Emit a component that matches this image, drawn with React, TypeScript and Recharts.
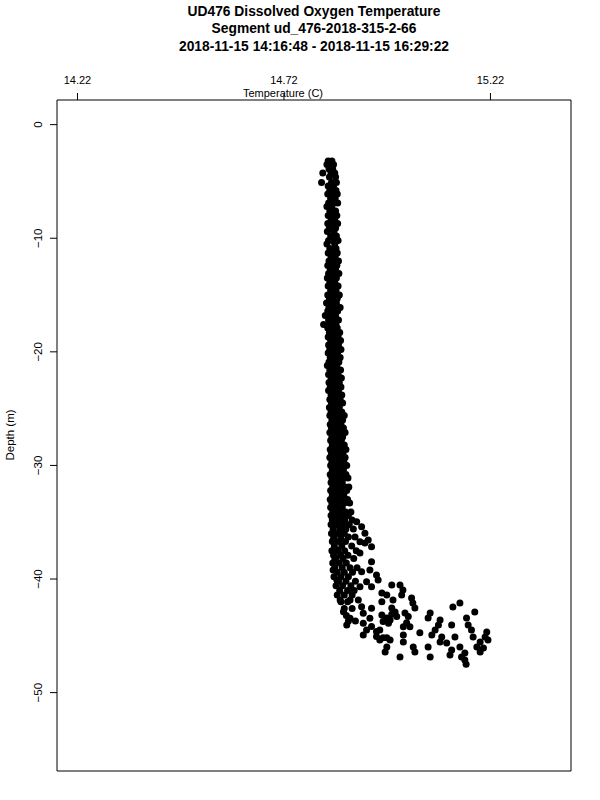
import { ReferenceArea, Scatter, ScatterChart, XAxis, YAxis } from "recharts";

const titleLines = [
  "UD476 Dissolved Oxygen Temperature",
  "Segment ud_476-2018-315-2-66",
  "2018-11-15 14:16:48 - 2018-11-15 16:29:22",
];

const tempTicks = [14.22, 14.72, 15.22];
const depthTicks = [0, -10, -20, -30, -40, -50];
const tempDomain = [14.1704, 15.415];
const depthDomain = [-56.9, 2.17];

// rows of [depth, temperature, temperature, ...]
const upperColumnRows: number[][] = [
  [-3.2, 14.827, 14.836],
  [-3.5, 14.824, 14.832, 14.84],
  [-3.9, 14.829, 14.838],
  [-4.25, 14.814, 14.834, 14.843],
  [-4.6, 14.83, 14.845],
  [-5.1, 14.811, 14.835, 14.847],
  [-5.4, 14.827, 14.84],
  [-5.8, 14.831, 14.846],
  [-6.1, 14.826, 14.838, 14.849],
  [-6.5, 14.833, 14.844],
  [-6.9, 14.828, 14.84, 14.85],
  [-7.2, 14.824, 14.836],
  [-7.6, 14.831, 14.845],
  [-8.0, 14.827, 14.839, 14.848],
  [-8.3, 14.834, 14.843],
  [-8.7, 14.826, 14.838, 14.85],
  [-9.1, 14.83, 14.845],
  [-9.4, 14.825, 14.841],
  [-9.8, 14.833, 14.847],
  [-10.2, 14.828, 14.838, 14.851],
  [-10.5, 14.824, 14.843],
  [-10.9, 14.831, 14.846],
  [-11.3, 14.827, 14.839, 14.849],
  [-11.6, 14.834, 14.844],
  [-12.0, 14.829, 14.841, 14.852],
];

const middleColumnRows: number[][] = [
  [-12.4, 14.826, 14.837, 14.848],
  [-12.8, 14.832, 14.845],
  [-13.1, 14.828, 14.84, 14.853],
  [-13.5, 14.825, 14.836, 14.847],
  [-13.9, 14.831, 14.843],
  [-14.2, 14.827, 14.839, 14.851],
  [-14.6, 14.833, 14.846],
  [-15.0, 14.826, 14.838, 14.854],
  [-15.3, 14.83, 14.842, 14.849],
  [-15.7, 14.823, 14.835, 14.847],
  [-16.1, 14.829, 14.841, 14.856],
  [-16.4, 14.826, 14.838, 14.85],
  [-16.8, 14.82, 14.833, 14.845],
  [-17.2, 14.828, 14.84, 14.852],
  [-17.6, 14.816, 14.831, 14.846],
  [-17.9, 14.826, 14.837, 14.849],
  [-18.3, 14.83, 14.843, 14.855],
  [-18.7, 14.827, 14.839, 14.851],
  [-19.0, 14.833, 14.846, 14.857],
  [-19.4, 14.828, 14.841, 14.852],
  [-19.8, 14.831, 14.844, 14.858],
  [-20.1, 14.827, 14.838, 14.85],
  [-20.5, 14.832, 14.846, 14.856],
  [-20.9, 14.829, 14.84, 14.853],
  [-21.2, 14.825, 14.836, 14.848],
  [-21.6, 14.831, 14.843, 14.857],
  [-22.0, 14.828, 14.84, 14.851],
  [-22.3, 14.834, 14.847, 14.859],
  [-22.7, 14.829, 14.842, 14.854],
  [-23.1, 14.832, 14.845, 14.858],
  [-23.4, 14.828, 14.839, 14.852],
  [-23.8, 14.834, 14.848, 14.86],
];

const lowerColumnRows: number[][] = [
  [-24.2, 14.831, 14.843, 14.856],
  [-24.5, 14.835, 14.849, 14.862],
  [-24.9, 14.83, 14.841, 14.854],
  [-25.3, 14.834, 14.847, 14.86],
  [-25.6, 14.831, 14.844, 14.857, 14.866],
  [-26.0, 14.836, 14.85, 14.862],
  [-26.4, 14.832, 14.845, 14.858],
  [-26.7, 14.835, 14.848, 14.864],
  [-27.1, 14.831, 14.843, 14.856, 14.868],
  [-27.5, 14.836, 14.851, 14.862],
  [-27.8, 14.833, 14.846, 14.859],
  [-28.2, 14.837, 14.852, 14.866],
  [-28.6, 14.832, 14.845, 14.858, 14.87],
  [-28.9, 14.835, 14.849, 14.863],
  [-29.3, 14.831, 14.844, 14.857, 14.868],
  [-29.7, 14.836, 14.852, 14.865],
  [-30.0, 14.833, 14.847, 14.86, 14.872],
  [-30.4, 14.837, 14.85, 14.864],
  [-30.8, 14.832, 14.845, 14.858, 14.87],
  [-31.1, 14.836, 14.851, 14.866, 14.875],
  [-31.5, 14.834, 14.848, 14.861],
  [-31.9, 14.838, 14.853, 14.868, 14.877],
  [-32.2, 14.833, 14.846, 14.86, 14.872],
  [-32.6, 14.837, 14.851, 14.865],
  [-33.0, 14.832, 14.845, 14.859, 14.874],
  [-33.3, 14.836, 14.85, 14.866, 14.879],
  [-33.7, 14.833, 14.847, 14.861],
  [-34.1, 14.838, 14.853, 14.869, 14.882],
  [-34.4, 14.834, 14.848, 14.863, 14.876],
  [-34.8, 14.837, 14.852, 14.867, 14.885],
];

const transitionRows: number[][] = [
  [-35.2, 14.834, 14.847, 14.862, 14.878],
  [-35.6, 14.839, 14.855, 14.87, 14.888],
  [-36.0, 14.835, 14.85, 14.866],
  [-36.3, 14.841, 14.858, 14.876, 14.892],
  [-36.7, 14.837, 14.853, 14.869],
  [-37.1, 14.842, 14.86, 14.884],
  [-37.5, 14.836, 14.851, 14.867, 14.895],
  [-37.9, 14.84, 14.857, 14.875],
  [-38.2, 14.845, 14.863, 14.889],
  [-38.6, 14.838, 14.854, 14.871],
  [-39.0, 14.843, 14.861, 14.88, 14.897],
  [-39.4, 14.849, 14.866, 14.886],
  [-39.8, 14.841, 14.858, 14.876],
  [-40.2, 14.852, 14.87, 14.893],
  [-40.6, 14.846, 14.862, 14.882],
  [-41.0, 14.855, 14.874, 14.89],
  [-41.4, 14.849, 14.866, 14.885],
  [-42.0, 14.858, 14.874],
  [-42.6, 14.866, 14.885],
  [-43.2, 14.871],
  [-43.7, 14.876, 14.893],
];

// scattered points near the bottom, [temperature, depth]
const spreadPoints: [number, number][] = [
  [14.896, -34.95], [14.908, -35.39], [14.916, -35.97], [14.924, -36.56],
  [14.932, -37.15], [14.839, -36.56], [14.848, -37.44], [14.843, -38.32],
  [14.839, -39.2], [14.848, -40.08], [14.904, -36.71], [14.916, -36.82],
  [14.904, -37.7], [14.932, -38.47], [14.928, -39.2], [14.944, -39.64],
  [14.948, -40.08], [14.932, -40.67], [14.908, -39.35], [14.904, -40.67],
  [14.92, -40.23], [14.856, -41.84], [14.88, -41.84], [14.9, -41.84],
  [14.908, -42.43], [14.932, -42.57], [14.912, -43.01], [14.864, -42.87],
  [14.88, -43.45], [14.928, -43.45], [14.872, -44.04], [14.912, -43.89],
  [14.92, -44.48], [14.932, -44.19], [14.944, -44.63], [14.912, -44.92],
  [14.944, -45.07], [14.952, -45.36], [14.969, -45.18],
  [14.981, -40.52], [15.001, -40.52], [14.957, -41.22], [14.969, -41.4],
  [15.008, -40.96], [15.005, -41.4], [14.984, -41.84], [15.029, -41.66],
  [15.032, -42.1], [15.037, -42.54], [15.129, -42.46], [15.146, -42.1],
  [14.957, -43.16], [14.981, -42.54], [14.989, -42.9], [15.013, -42.98],
  [15.074, -42.98], [15.069, -43.42], [14.969, -43.42], [14.977, -43.6],
  [15.182, -42.9], [15.162, -43.42], [15.098, -43.6], [15.017, -43.86],
  [15.009, -44.21], [15.025, -44.21], [15.094, -44.04], [15.086, -44.48],
  [15.126, -44.04], [15.166, -44.04], [15.174, -44.48], [15.211, -44.66],
  [15.207, -45.1], [14.952, -44.48], [14.96, -45.18], [14.977, -45.36],
  [15.009, -44.92], [15.009, -45.54], [15.049, -44.74], [15.078, -44.92],
  [15.102, -45.1], [15.098, -45.54], [15.114, -45.63], [15.134, -45.1],
  [15.178, -45.1], [15.195, -45.54], [15.187, -45.98], [15.203, -46.07],
  [14.969, -45.98], [14.965, -46.42], [15.033, -45.98], [15.037, -46.42],
  [15.069, -45.98], [15.074, -46.86], [15.126, -46.24], [15.146, -45.98],
  [15.15, -46.86], [15.158, -47.12], [15.001, -46.86], [15.122, -46.68],
  [15.195, -46.42], [15.158, -46.51], [15.161, -47.5], [15.214, -45.36],
  [14.957, -42.0], [14.981, -43.1], [14.993, -43.3], [15.021, -43.3],
  [14.96, -43.75], [14.973, -43.9],
];

const rowsToPoints = (rows: number[][]) =>
  rows.flatMap(([d, ...temps]) => temps.map((t) => ({ t, d })));

const points = [
  ...rowsToPoints(upperColumnRows),
  ...rowsToPoints(middleColumnRows),
  ...rowsToPoints(lowerColumnRows),
  ...rowsToPoints(transitionRows),
  ...spreadPoints.map(([t, d]) => ({ t, d })),
];

const FONT = "'Liberation Sans', Arial, Helvetica, sans-serif";

// R draws the minus of a negative axis label as a proper minus sign
const depthLabel = (v: number) => (v < 0 ? `\u2212${Math.abs(v)}` : `${v}`);

export default function App() {
  return (
    <div
      style={{
        position: "absolute",
        left: 0,
        top: 0,
        width: 600,
        height: 800,
        background: "#fff",
        fontFamily: FONT,
      }}
    >
      <ScatterChart
        width={600}
        height={800}
        margin={{ top: 60, right: 29, bottom: 29, left: 17 }}
      >
        <XAxis
          type="number"
          dataKey="t"
          orientation="top"
          height={40}
          domain={tempDomain}
          ticks={tempTicks}
          allowDataOverflow
          axisLine={false}
          tickSize={7}
          tickLine={{ stroke: "#000" }}
          tick={({ x, payload }: any) => (
            <text
              x={x}
              y={84}
              textAnchor="middle"
              fontSize={11}
              fontFamily={FONT}
              fill="#000"
            >
              {Number(payload.value).toFixed(2)}
            </text>
          )}
        />
        <YAxis
          type="number"
          dataKey="d"
          width={40}
          domain={depthDomain}
          ticks={depthTicks}
          allowDataOverflow
          axisLine={false}
          tickSize={7}
          tickLine={{ stroke: "#000" }}
          tick={({ y, payload }: any) => (
            <text
              x={42}
              y={y}
              transform={`rotate(-90 42 ${y})`}
              textAnchor="middle"
              fontSize={11.5}
              fontFamily={FONT}
              fill="#000"
            >
              {depthLabel(payload.value)}
            </text>
          )}
        />
        <ReferenceArea
          x1={tempDomain[0]}
          x2={tempDomain[1]}
          y1={depthDomain[0]}
          y2={depthDomain[1]}
          fill="none"
          fillOpacity={0}
          stroke="#000"
          strokeWidth={1}
          ifOverflow="visible"
        />
        <Scatter
          data={points}
          isAnimationActive={false}
          shape={(p: any) => <circle cx={p.cx} cy={p.cy} r={3.5} fill="#000" />}
        />
      </ScatterChart>
      <svg
        width={600}
        height={800}
        style={{ position: "absolute", left: 0, top: 0, pointerEvents: "none" }}
      >
        {titleLines.map((line, i) => (
          <text
            key={line}
            x={314}
            y={15.5 + i * 17.5}
            textAnchor="middle"
            fontSize={13.8}
            fontWeight="bold"
            fontFamily={FONT}
          >
            {line}
          </text>
        ))}
        <text x={283} y={97} textAnchor="middle" fontSize={11} fontFamily={FONT}>
          Temperature (C)
        </text>
        <text
          x={14}
          y={435}
          transform="rotate(-90 14 435)"
          textAnchor="middle"
          fontSize={11.5}
          fontFamily={FONT}
        >
          Depth (m)
        </text>
      </svg>
    </div>
  );
}
